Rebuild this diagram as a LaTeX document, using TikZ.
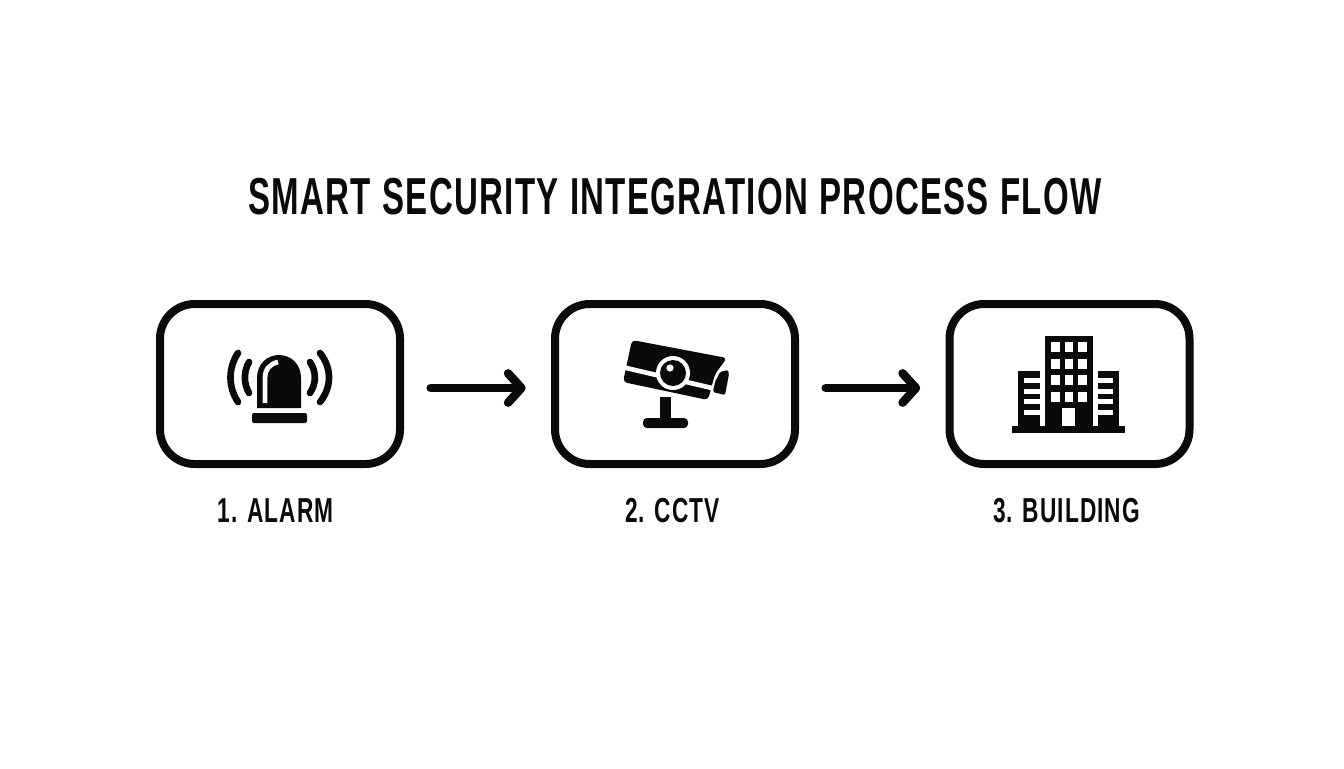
\documentclass[tikz,border=0pt]{standalone}
\usepackage{fontspec}
\setmainfont{Liberation Sans}
\newfontfamily\titlefont[FakeStretch=0.635,LetterSpace=2.5,WordSpace=1.1]{Liberation Sans}
\newfontfamily\labelfont[FakeStretch=0.655,LetterSpace=3]{Liberation Sans}
\usetikzlibrary{arrows.meta}
\definecolor{ink}{HTML}{0A0A0A}
\tikzset{
  x=0.75pt,y=-0.75pt,
  stepbox/.style={draw=ink,line width=6pt,rounded corners=26pt,minimum width=180pt,minimum height=120pt,inner sep=0pt,fill=white},
  flow/.style={draw=ink,line width=6.4pt,line cap=round,line join=round,-{Straight Barb[length=10pt,width=22pt,round,line width=6.4pt]}},
  steplabel/.style={text=ink,font=\labelfont\bfseries\fontsize{26}{30}\selectfont,inner sep=0pt,anchor=center},
  titletext/.style={text=ink,font=\titlefont\bfseries\fontsize{39}{44}\selectfont,inner sep=0pt,anchor=center},
  wave/.style={draw=ink,line width=5pt,line cap=round}
}
\begin{document}
\begin{tikzpicture}
\useasboundingbox (0,0) rectangle (1344,768);
\fill[white] (0,0) rectangle (1344,768);
\node[titletext] (title) at (675,197) {SMART SECURITY INTEGRATION PROCESS FLOW};
\node[stepbox] (b1) at (280,384) {};
\node[stepbox] (b2) at (675,384) {};
\node[stepbox] (b3) at (1069.5,384) {};
\node[steplabel] (l1) at (275.5,511) {1. ALARM};
\node[steplabel] (l2) at (672.5,511) {2. CCTV};
\node[steplabel] (l3) at (1066.5,511) {3. BUILDING};
\draw[flow] ([xshift=20pt,yshift=-3pt]b1.east) -- ([xshift=-19pt,yshift=-3pt]b2.west);
\draw[flow] ([xshift=20pt,yshift=-3pt]b2.east) -- ([xshift=-19pt,yshift=-3pt]b3.west);
% alarm
\fill[ink] (257,408) -- (257,378) .. controls (257,364) and (267,355) .. (279,355) .. controls (291,355) and (301,364) .. (301,378) -- (301,408) -- cycle;
\draw[white,line width=3.6pt,line cap=butt] (265,403) -- (265,378) .. controls (265,369) and (270,364) .. (278,362);
\fill[ink,rounded corners=1.5pt] (252,423) rectangle (307,413);
\draw[wave] (249,362) .. controls (243.5,372) and (243.5,383) .. (249,393);
\draw[wave] (238,353) .. controls (228,368) and (228,387) .. (238,402);
\draw[wave] (310,362) .. controls (316.5,372) and (316.5,383) .. (310,393);
\draw[wave] (320,353) .. controls (332,368) and (332,387) .. (320,402);
% camera
\fill[ink,rounded corners=3pt] (632,340) -- (727,358) -- (715,374) -- (708,400) -- (623,382) -- cycle;
\draw[white,line width=3.5pt] (622,367) -- (712,388);
\fill[white] (673,373) circle[radius=17*0.75pt];
\fill[ink] (673,373) circle[radius=13*0.75pt];
\fill[white] (670,368) circle[radius=3.6*0.75pt];
\fill[ink,rounded corners=1pt] (720,372) -- (728,370) -- (729,374) -- (725,395) -- (713,392) -- (715,382) -- cycle;
\fill[ink] (660,397) rectangle (671,420);
\fill[ink,rounded corners=3pt] (643,428) -- (643,418) -- (688,418) -- (688,428) -- cycle;
% building
\fill[ink] (1045,336) rectangle (1093,427);
\fill[ink] (1012,426) rectangle (1125,433);
\fill[ink] (1018,371) rectangle (1040,427);
\fill[ink] (1098,371) rectangle (1119,427);
\foreach \y in {378,388.5,399,410}{
  \fill[white] (1024,\y) rectangle (1040,\y+5);
  \fill[white] (1098,\y) rectangle (1113,\y+5);
}
\foreach \y in {342,358.5,375,392}{
  \foreach \x in {1051,1064.5,1078}{
    \fill[white] (\x,\y) rectangle (\x+8.5,\y+10);
  }
}
\fill[white] (1062,408) rectangle (1075,426);
\end{tikzpicture}
\end{document}
